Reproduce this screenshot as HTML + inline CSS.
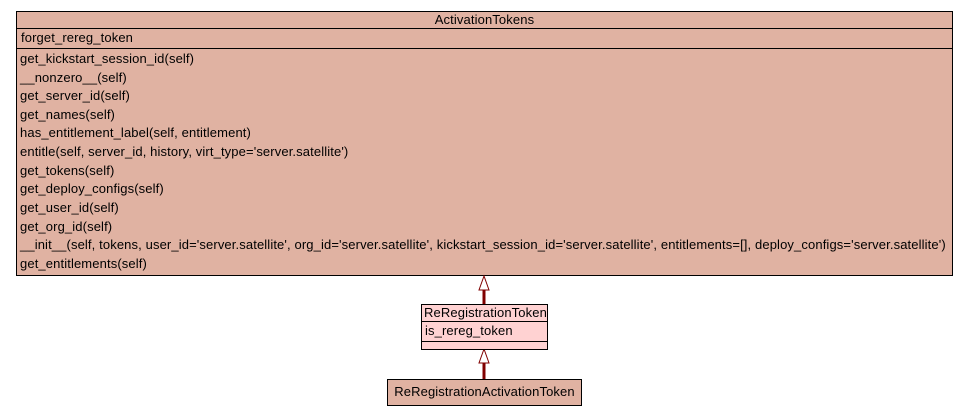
<!DOCTYPE html>
<html><head><meta charset="utf-8"><style>
body{margin:0;width:968px;height:416px;background:#fff;position:relative;overflow:hidden;font-family:"Liberation Sans",sans-serif;font-size:13px;letter-spacing:0.12px;color:#000}
.b{position:absolute;border:1px solid #000;box-sizing:border-box}
.t{position:absolute;white-space:nowrap;line-height:14px}
.h{position:absolute;left:0;right:0;border-top:1px solid #000}
</style></head><body>
<div class="b" style="left:16px;top:11px;width:937px;height:265px;background:#e0b2a2">
 <div class="t" style="left:0;right:0;top:1px;text-align:center">ActivationTokens</div>
 <div class="h" style="top:16px"></div>
 <div class="t" style="left:4px;top:19px">forget_rereg_token</div>
 <div class="h" style="top:36px"></div>
 <div class="t" style="left:3px;top:40px">get_kickstart_session_id(self)</div>
 <div class="t" style="left:3px;top:59px">__nonzero__(self)</div>
 <div class="t" style="left:3px;top:77px">get_server_id(self)</div>
 <div class="t" style="left:3px;top:96px">get_names(self)</div>
 <div class="t" style="left:3px;top:114px">has_entitlement_label(self, entitlement)</div>
 <div class="t" style="left:3px;top:133px">entitle(self, server_id, history, virt_type='server.satellite')</div>
 <div class="t" style="left:3px;top:152px">get_tokens(self)</div>
 <div class="t" style="left:3px;top:170px">get_deploy_configs(self)</div>
 <div class="t" style="left:3px;top:189px">get_user_id(self)</div>
 <div class="t" style="left:3px;top:208px">get_org_id(self)</div>
 <div class="t" style="left:3px;top:226px">__init__(self, tokens, user_id='server.satellite', org_id='server.satellite', kickstart_session_id='server.satellite', entitlements=[], deploy_configs='server.satellite')</div>
 <div class="t" style="left:3px;top:245px">get_entitlements(self)</div>
</div>
<svg width="968" height="416" style="position:absolute;left:0;top:0">
 <line x1="484" y1="290" x2="484" y2="304" stroke="#800000" stroke-width="3"/>
 <polygon points="484,276 479,290 489,290" fill="#fff" stroke="#800000" stroke-width="1"/>
 <line x1="484" y1="363" x2="484" y2="379" stroke="#800000" stroke-width="3"/>
 <polygon points="484,349 479,363 489,363" fill="#fff" stroke="#800000" stroke-width="1"/>
</svg>
<div class="b" style="left:421px;top:304px;width:127px;height:46px;background:#ffd2d2">
 <div class="t" style="left:2px;top:1px">ReRegistrationToken</div>
 <div class="h" style="top:16px"></div>
 <div class="t" style="left:3px;top:19px">is_rereg_token</div>
 <div class="h" style="top:36px"></div>
</div>
<div class="b" style="left:387px;top:379px;width:195px;height:27px;background:#e0b2a2">
 <div class="t" style="left:0;right:0;top:5px;text-align:center">ReRegistrationActivationToken</div>
</div>
</body></html>
